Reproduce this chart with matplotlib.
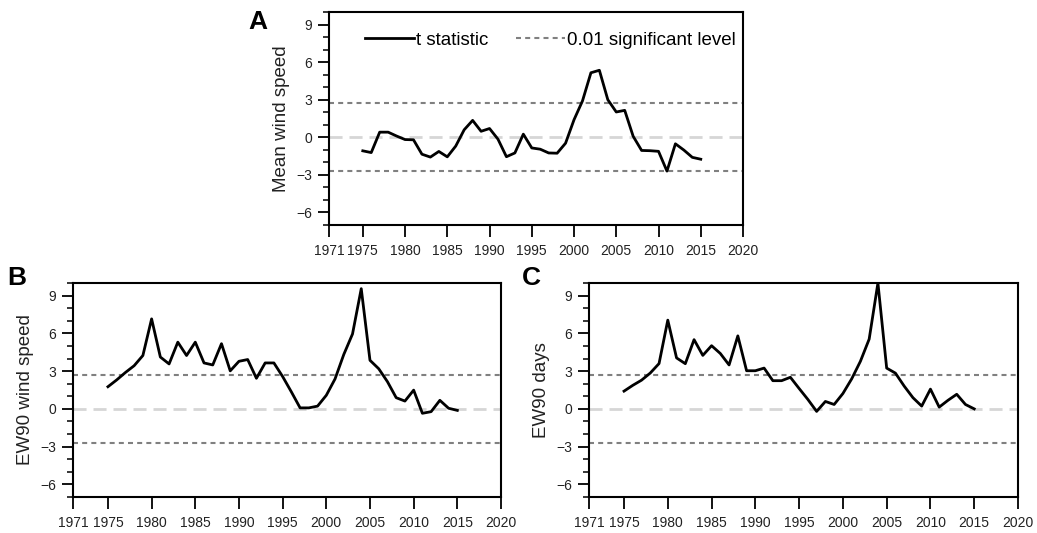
import matplotlib
matplotlib.use('Agg')
import matplotlib.pyplot as plt
from matplotlib.lines import Line2D

plt.rcParams['font.family'] = ['Liberation Sans', 'DejaVu Sans']

years = list(range(1975, 2016))

# t statistic series
mean_ws = [-1.08, -1.22, 0.41, 0.41, 0.1, -0.18, -0.2, -1.35, -1.58, -1.13, -1.56,
           -0.7, 0.6, 1.35, 0.48, 0.7, -0.15, -1.55, -1.25, 0.25, -0.85, -0.95,
           -1.25, -1.27, -0.47, 1.4, 2.9, 5.15, 5.35, 3.0, 2.02, 2.15, 0.08,
           -1.05, -1.07, -1.12, -2.7, -0.52, -1.02, -1.6, -1.75]
ew90_ws = [1.76, 2.3, 2.89, 3.43, 4.24, 7.15, 4.12, 3.57, 5.3, 4.24, 5.3,
           3.65, 3.49, 5.18, 3.02, 3.78, 3.92, 2.43, 3.65, 3.65, 2.57, 1.35,
           0.08, 0.08, 0.22, 1.08, 2.38, 4.32, 5.95, 9.55, 3.86, 3.19, 2.16,
           0.89, 0.62, 1.49, -0.35, -0.22, 0.68, 0.05, -0.12]
ew90_days = [1.41, 1.87, 2.28, 2.85, 3.6, 7.05, 4.05, 3.59, 5.5, 4.25, 5.02,
             4.4, 3.49, 5.8, 3.03, 3.03, 3.24, 2.24, 2.24, 2.51, 1.62, 0.75,
             -0.2, 0.59, 0.35, 1.22, 2.38, 3.78, 5.54, 10.0, 3.24, 2.84, 1.81,
             0.89, 0.22, 1.57, 0.14, 0.68, 1.16, 0.35, 0.0]

sig_level = 2.7
xticks = [1971, 1975, 1980, 1985, 1990, 1995, 2000, 2005, 2010, 2015, 2020]
yticks = [-6, -3, 0, 3, 6, 9]

W, H = 1037, 533
fig = plt.figure(figsize=(W / 100, H / 100), dpi=100)

# axes boxes in pixels: left, top, right, bottom
boxes = {
    'A': (329, 12, 743, 225),
    'B': (73, 283, 501, 497),
    'C': (589, 283, 1018, 497),
}
panels = [('A', mean_ws, 'Mean wind speed'),
          ('B', ew90_ws, 'EW90 wind speed'),
          ('C', ew90_days, 'EW90 days')]
letter_pos = {'A': (258, 22), 'B': (17, 278), 'C': (531, 278)}

for name, vals, ylab in panels:
    l, t, r, b = boxes[name]
    ax = fig.add_axes([l / W, 1 - b / H, (r - l) / W, (b - t) / H])
    ax.axhline(0, color='#d6d6d6', lw=2, linestyle=(0, (4.7, 2.5)), zorder=1)
    ax.axhline(sig_level, color='#808080', lw=1.5, linestyle=(0, (2.4, 2)), zorder=1)
    ax.axhline(-sig_level, color='#808080', lw=1.5, linestyle=(0, (2.4, 2)), zorder=1)
    ax.plot(years, vals, color='black', lw=2, zorder=3)
    ax.set_xlim(1971, 2020)
    ax.set_ylim(-7, 10)
    ax.set_xticks(xticks)
    ax.set_yticks(yticks)
    ax.set_yticks(range(-7, 11), minor=True)
    ax.tick_params(axis='both', which='major', labelsize=10, direction='out',
                   width=1.3, top=False, right=False, labelcolor='#222222')
    ax.tick_params(axis='x', which='major', length=8.5, pad=5)
    ax.tick_params(axis='y', which='major', length=8, pad=4)
    ax.tick_params(axis='y', which='minor', direction='out', length=4, width=1.1)
    for s in ax.spines.values():
        s.set_linewidth(1.5)
    ax.set_ylabel(ylab, fontsize=13.5, labelpad=5, color='#222222')
    lx, ly = letter_pos[name]
    fig.text(lx / W, 1 - ly / H, name, fontsize=19, fontweight='bold',
             ha='center', va='center')
    if name == 'A':
        h1 = Line2D([], [], color='black', lw=2)
        h2 = Line2D([], [], color='#808080', lw=1.5, linestyle=(0, (2.4, 2)))
        ax.legend([h1, h2], ['t statistic', '0.01 significant level'],
                  ncol=2, frameon=False, fontsize=13.5, loc='center',
                  bbox_to_anchor=(0.535, 0.868), handlelength=2.6,
                  handletextpad=0.1, columnspacing=1.5)

fig.savefig('out.png', dpi=100)
